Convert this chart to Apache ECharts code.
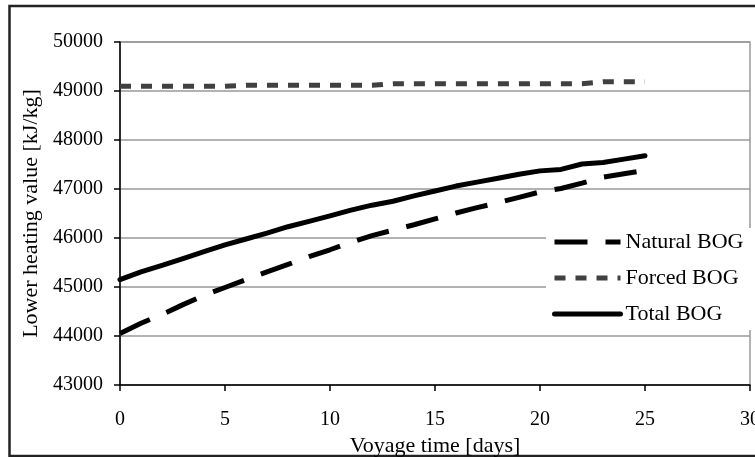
<!DOCTYPE html>
<html>
<head>
<meta charset="utf-8">
<script src="https://cdn.jsdelivr.net/npm/echarts@6/dist/echarts.min.js"></script>
<style>
  html, body { margin: 0; padding: 0; background: #fff; }
  #chart { width: 755px; height: 457px; }
</style>
</head>
<body>
<div id="chart"></div>
<script>
// voyage days 0..25
const days = [0, 1, 2, 3, 4, 5, 6, 7, 8, 9, 10, 11, 12, 13, 14, 15, 16, 17, 18, 19, 20, 21, 22, 23, 24, 25]
// lower heating value [kJ/kg]
const naturalBog = [44050, 44260, 44440, 44640, 44830, 44990, 45150, 45310, 45460, 45620, 45760, 45910, 46050,
  46160, 46270, 46390, 46510, 46620, 46720, 46830, 46940, 47010, 47120, 47240, 47310, 47380]
const forcedBog = [49095, 49095, 49095, 49095, 49095, 49095, 49115, 49115, 49115, 49115, 49115, 49115, 49115,
  49150, 49150, 49150, 49150, 49150, 49150, 49150, 49150, 49150, 49150, 49190, 49190, 49190]
const totalBog = [45150, 45310, 45440, 45580, 45720, 45860, 45980, 46100, 46230, 46340, 46450, 46570, 46670,
  46750, 46860, 46960, 47060, 47140, 47220, 47300, 47370, 47400, 47510, 47540, 47610, 47680]
const seriesNames = ['Natural BOG', 'Forced BOG', 'Total BOG']

const font = "'Liberation Serif', 'Times New Roman', serif"

const pairs = (ys) => days.map((d, i) => [d, ys[i]])

const chart = echarts.init(document.getElementById('chart'))
chart.setOption({
  animation: false,
  backgroundColor: '#fff',
  textStyle: { fontFamily: font, color: '#000' },
  // outer frame of the figure
  graphic: [{
    type: 'rect',
    shape: { x: 9.5, y: 6, width: 760, height: 450 },
    style: { fill: 'none', stroke: '#222', lineWidth: 2.5 },
    silent: true
  }],
  grid: {
    left: 120,
    right: 5,
    top: 42,
    bottom: 72,
    containLabel: false,
    outerBoundsMode: 'none',
    show: true,
    borderColor: '#999',
    borderWidth: 1.5
  },
  legend: {
    data: seriesNames,
    orient: 'vertical',
    left: 546,
    top: 228,
    itemWidth: 66,
    itemHeight: 14,
    itemGap: 14,
    padding: [3, 8, 5, 6],
    backgroundColor: '#fff',
    itemStyle: { opacity: 0 },
    lineStyle: { width: 5 },
    textStyle: { fontFamily: font, fontSize: 22, color: '#000', lineHeight: 22 }
  },
  xAxis: {
    type: 'value',
    min: 0,
    max: 30,
    interval: 5,
    name: 'Voyage time [days]',
    nameLocation: 'middle',
    nameGap: 50,
    nameTextStyle: { fontFamily: font, fontSize: 22, color: '#000' },
    axisLine: { show: true, lineStyle: { color: '#000', width: 1.5 } },
    axisTick: { show: true, length: 6, lineStyle: { color: '#000', width: 1.5 } },
    axisLabel: { fontFamily: font, fontSize: 20, color: '#000', margin: 25 },
    splitLine: { show: false }
  },
  yAxis: {
    type: 'value',
    min: 43000,
    max: 50000,
    interval: 1000,
    name: 'Lower heating value [kJ/kg]',
    nameLocation: 'middle',
    nameGap: 72,
    nameTextStyle: { fontFamily: font, fontSize: 22, color: '#000' },
    axisLine: { show: true, lineStyle: { color: '#000', width: 1.5 } },
    axisTick: { show: true, length: 6, lineStyle: { color: '#000', width: 1.5 } },
    axisLabel: { fontFamily: font, fontSize: 20, color: '#000', margin: 17, formatter: (v) => String(v) },
    splitLine: { show: true, lineStyle: { color: '#999', width: 1.5 } }
  },
  series: [
    {
      name: 'Natural BOG',
      type: 'line',
      data: pairs(naturalBog),
      symbol: 'none',
      lineStyle: { color: '#000', width: 5, type: [33, 18], cap: 'butt' },
      itemStyle: { color: '#000' }
    },
    {
      name: 'Forced BOG',
      type: 'line',
      data: pairs(forcedBog),
      symbol: 'none',
      lineStyle: { color: '#404040', width: 5, type: [11, 10], cap: 'butt' },
      itemStyle: { color: '#404040' }
    },
    {
      name: 'Total BOG',
      type: 'line',
      data: pairs(totalBog),
      symbol: 'none',
      lineStyle: { color: '#000', width: 5, cap: 'round', join: 'round' },
      itemStyle: { color: '#000' }
    }
  ]
})
</script>
</body>
</html>
